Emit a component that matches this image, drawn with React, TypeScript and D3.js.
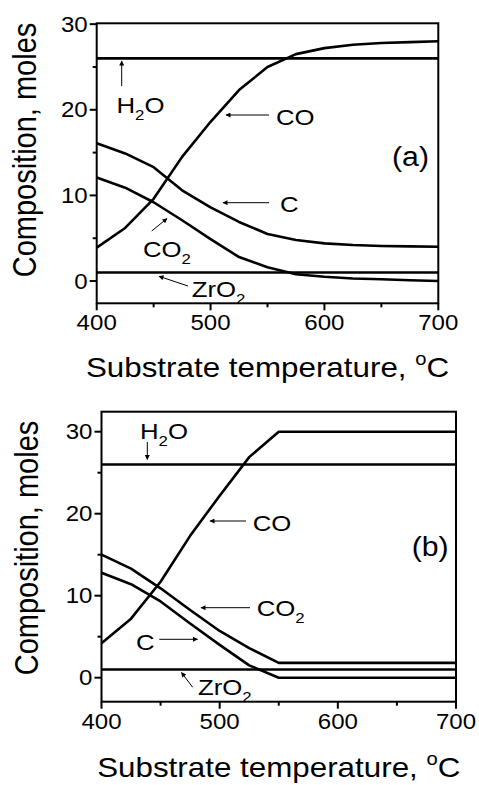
import React from "react";
import * as d3 from "d3";

// ---------- data ----------
const TEMPS = [400, 425, 450, 475, 500, 525, 550, 575, 600, 625, 650, 675, 700];

// panel (a)
const A_H2O = [26, 26, 26, 26, 26, 26, 26, 26, 26, 26, 26, 26, 26];
const A_CO = [3.9, 6.2, 9.6, 14.5, 18.6, 22.3, 25.0, 26.5, 27.2, 27.6, 27.8, 27.9, 28.0];
const A_C = [16.1, 14.9, 13.3, 10.6, 8.6, 6.9, 5.5, 4.8, 4.4, 4.2, 4.1, 4.05, 4.0];
const A_CO2 = [12.1, 10.9, 9.2, 7.1, 4.9, 2.8, 1.6, 0.8, 0.5, 0.3, 0.2, 0.1, 0.0];
const A_ZRO2 = [1, 1, 1, 1, 1, 1, 1, 1, 1, 1, 1, 1, 1];

// panel (b)
const B_H2O = [26, 26, 26, 26, 26, 26, 26, 26, 26, 26, 26, 26, 26];
const B_CO = [4.2, 7.2, 11.7, 17.3, 22.2, 26.9, 30, 30, 30, 30, 30, 30, 30];
const B_CO2 = [15.0, 13.3, 10.9, 8.25, 5.7, 3.6, 1.8, 1.8, 1.8, 1.8, 1.8, 1.8, 1.8];
const B_C = [12.8, 11.4, 9.3, 6.6, 4.0, 1.5, 0, 0, 0, 0, 0, 0, 0];
const B_ZRO2 = [1, 1, 1, 1, 1, 1, 1, 1, 1, 1, 1, 1, 1];

const X_TICKS = [400, 500, 600, 700];
const X_MINOR = [450, 550, 650];
const Y_TICKS = [0, 10, 20, 30];
const Y_MINOR = [5, 15, 25];

const X_TITLE = "Substrate temperature, ";
const Y_TITLE = "Composition, moles";

const FONT = "'Liberation Sans', Arial, Helvetica, sans-serif";
const SX = 1.12; // horizontal stretch of the original raster

type Ann = {
  label: string;
  sub?: string;
  lx: number;
  ly: number;
  arrow?: [number, number, number, number];
};

function Txt({ x, y, size, children, anchor = "start" }: any) {
  return (
    <text
      transform={`translate(${x},${y}) scale(${SX},1)`}
      fontSize={size}
      fontFamily={FONT}
      textAnchor={anchor}
      fill="#000"
    >
      {children}
    </text>
  );
}

function Panel({
  x0, x1, yTop, yBot, yDomain, series, anns, tag, tagPos, yTitleX, yTitleY, xTitleY, id,
}: any) {
  const x = d3.scaleLinear().domain([400, 700]).range([x0, x1]);
  const y = d3.scaleLinear().domain(yDomain).range([yBot, yTop]);
  const line = d3
    .line<number>()
    .x((_, i) => x(TEMPS[i]))
    .y((d) => y(d));
  const cx = (x0 + x1) / 2;
  return (
    <g>
      {series.map((s: number[], i: number) => (
        <path key={i} d={line(s) || ""} fill="none" stroke="#000" strokeWidth={2.6} strokeLinejoin="round" />
      ))}
      <rect x={x0} y={yTop} width={x1 - x0} height={yBot - yTop} fill="none" stroke="#000" strokeWidth={2} />
      {X_TICKS.map((t) => (
        <g key={"xt" + t}>
          <line x1={x(t)} x2={x(t)} y1={yBot} y2={yBot + 7} stroke="#000" strokeWidth={2} />
          <Txt x={x(t)} y={yBot + 27} size={21.5} anchor="middle">{t}</Txt>
        </g>
      ))}
      {X_MINOR.map((t) => (
        <line key={"xm" + t} x1={x(t)} x2={x(t)} y1={yBot} y2={yBot + 4} stroke="#000" strokeWidth={2} />
      ))}
      {Y_TICKS.map((t) => (
        <g key={"yt" + t}>
          <line x1={x0} x2={x0 - 7} y1={y(t)} y2={y(t)} stroke="#000" strokeWidth={2} />
          <Txt x={x0 - 9} y={y(t) + 7.5} size={21.5} anchor="end">{t}</Txt>
        </g>
      ))}
      {Y_MINOR.map((t) => (
        <line key={"ym" + t} x1={x0} x2={x0 - 4} y1={y(t)} y2={y(t)} stroke="#000" strokeWidth={2} />
      ))}
      <text
        transform={`translate(${cx},${xTitleY}) scale(${SX},1)`}
        fontSize={28}
        fontFamily={FONT}
        textAnchor="middle"
      >
        {X_TITLE}
        <tspan fontSize={18} dy={-12}>o</tspan>
        <tspan dy={12}>C</tspan>
      </text>
      <text
        transform={`translate(${yTitleX},${yTitleY}) rotate(-90) scale(1,${SX})`}
        fontSize={29}
        fontFamily={FONT}
        textAnchor="middle"
      >
        {Y_TITLE}
      </text>
      <Txt x={tagPos[0]} y={tagPos[1]} size={27}>{tag}</Txt>
      {anns.map((a: Ann, i: number) => (
        <g key={"a" + i}>
          {a.arrow && (
            <line
              x1={a.arrow[0]} y1={a.arrow[1]} x2={a.arrow[2]} y2={a.arrow[3]}
              stroke="#000" strokeWidth={1} markerEnd={`url(#${id})`}
            />
          )}
          <text
            transform={`translate(${a.lx},${a.ly}) scale(${SX},1)`}
            fontSize={23}
            fontFamily={FONT}
          >
            {a.label}
            {a.sub && (
              <tspan fontSize={15} dy={7}>{a.sub}</tspan>
            )}
            {a.sub && a.label === "H" && <tspan dy={-7} fontSize={23}>O</tspan>}
          </text>
        </g>
      ))}
    </g>
  );
}

const ANN_A: Ann[] = [
  { label: "H", sub: "2", lx: 116.5, ly: 113, arrow: [121.7, 86, 121.7, 61] },
  { label: "CO", lx: 276, ly: 124.5, arrow: [269, 115, 226, 115] },
  { label: "C", lx: 280, ly: 211.5, arrow: [269, 202.7, 223, 202.7] },
  { label: "CO", sub: "2", lx: 143, ly: 256.5, arrow: [151.7, 231, 167, 218.5] },
  { label: "ZrO", sub: "2", lx: 191.7, ly: 296.7, arrow: [188, 286, 159, 276.3] },
];

const ANN_B: Ann[] = [
  { label: "H", sub: "2", lx: 140, ly: 439.3, arrow: [147.3, 442, 147.3, 459.5] },
  { label: "CO", lx: 252.7, ly: 530.7, arrow: [246, 521, 210, 521] },
  { label: "CO", sub: "2", lx: 256.7, ly: 616, arrow: [250, 607.7, 201, 607.7] },
  { label: "C", lx: 136, ly: 649.5, arrow: [159.3, 639.3, 197.5, 639.3] },
  { label: "ZrO", sub: "2", lx: 198, ly: 695, arrow: [192.7, 687.3, 181.5, 672.5] },
];

export default function App() {
  return (
    <svg
      width={479}
      height={785}
      style={{ position: "absolute", left: 0, top: 0, background: "#fff" }}
    >
      <defs>
        <marker id="ah" viewBox="0 0 10 10" refX="9" refY="5" markerWidth="7" markerHeight="5" orient="auto" markerUnits="userSpaceOnUse">
          <path d="M0,0 L10,5 L0,10 z" fill="#000" />
        </marker>
      </defs>
      <rect width={479} height={785} fill="#fff" />
      <Panel
        id="ah"
        x0={96.7}
        x1={438.3}
        yTop={23.3}
        yBot={303.3}
        yDomain={[-2.6, 30.1]}
        series={[A_H2O, A_CO, A_C, A_CO2, A_ZRO2]}
        anns={ANN_A}
        tag="(a)"
        tagPos={[392, 166]}
        yTitleX={36}
        yTitleY={150}
        xTitleY={377}
      />
      <Panel
        id="ah"
        x0={101.5}
        x1={456}
        yTop={411.7}
        yBot={701.7}
        yDomain={[-2.93, 32.44]}
        series={[B_H2O, B_CO, B_CO2, B_C, B_ZRO2]}
        anns={ANN_B}
        tag="(b)"
        tagPos={[411.7, 556]}
        yTitleX={38}
        yTitleY={548}
        xTitleY={776.7}
      />
    </svg>
  );
}
